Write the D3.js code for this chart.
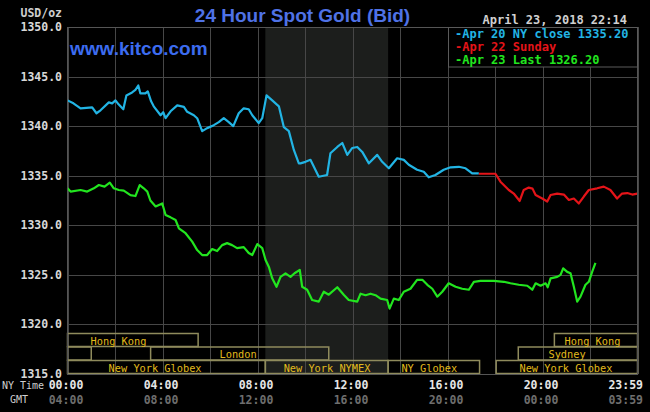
<!DOCTYPE html>
<html>
<head>
<meta charset="utf-8">
<script src="https://cdn.jsdelivr.net/npm/d3@7/dist/d3.min.js"></script>
<style>
  html, body { margin: 0; padding: 0; background: #000; }
  svg { display: block; }
</style>
</head>
<body>
<svg id="chart" width="650" height="412"></svg>
<script>
// ---------- DATA ----------
const yTicks = [1315, 1320, 1325, 1330, 1335, 1340, 1345, 1350];
const nyTimeLabels = ["00:00", "04:00", "08:00", "12:00", "16:00", "20:00", "23:59"];
const gmtLabels    = ["04:00", "08:00", "12:00", "16:00", "20:00", "00:00", "03:59"];
const labelHours   = [0, 4, 8, 12, 16, 20, 23.983];

// Apr 20 (NY close 1335.20) – hours of NY time, price
const apr20Hours = [0.00,0.25,0.55,1.04,1.22,1.39,1.74,1.88,2.02,2.15,2.35,2.48,2.72,2.86,2.98,3.07,3.28,3.38,3.52,3.63,3.92,4.03,4.13,4.34,4.62,4.90,5.04,5.32,5.46,5.67,5.88,6.16,6.37,6.58,6.79,6.98,7.21,7.42,7.63,7.78,8.05,8.20,8.38,8.62,8.90,9.11,9.32,9.53,9.74,9.81,10.02,10.23,10.58,10.93,11.07,11.36,11.57,11.78,11.99,12.20,12.41,12.69,13.04,13.25,13.53,13.88,14.16,14.37,14.72,15.00,15.21,15.49,15.84,16.13,16.48,16.76,17.04,17.32];
const apr20Values = [1342.6,1342.3,1341.8,1341.9,1341.3,1341.6,1342.4,1342.3,1342.6,1342.2,1341.7,1343.1,1343.4,1343.65,1344.1,1343.3,1343.3,1343.5,1342.5,1342.0,1341.1,1341.4,1340.8,1341.5,1342.1,1341.95,1341.45,1341.1,1340.8,1339.5,1339.8,1340.1,1340.4,1340.8,1340.4,1340.0,1341.3,1341.8,1341.7,1341.1,1340.3,1340.8,1343.1,1342.6,1342.0,1339.9,1339.5,1337.6,1336.25,1336.25,1336.4,1336.6,1334.9,1335.07,1337.26,1337.9,1338.3,1337.1,1337.8,1337.9,1337.4,1336.25,1337.1,1336.4,1335.75,1336.76,1336.6,1336.1,1335.6,1335.4,1334.84,1335.07,1335.6,1335.85,1335.9,1335.75,1335.24,1335.24];

// Apr 22 (Sunday)
const apr22Hours = [17.32,18.02,18.23,18.58,18.79,19.04,19.21,19.42,19.58,19.71,19.99,20.20,20.34,20.62,20.90,21.11,21.32,21.53,21.74,21.95,22.30,22.58,22.86,23.14,23.35,23.57,23.78,23.99];
const apr22Values = [1335.2,1335.2,1334.4,1333.56,1333.2,1332.45,1333.56,1333.8,1333.7,1333.05,1332.7,1332.4,1333.05,1333.2,1333.1,1332.55,1332.7,1332.2,1332.9,1333.56,1333.73,1333.9,1333.56,1332.7,1333.2,1333.25,1333.1,1333.2];

// Apr 23 (Last 1326.20)
const apr23Hours = [0.00,0.13,0.55,0.83,1.11,1.32,1.56,1.78,1.95,2.16,2.37,2.65,2.86,3.04,3.21,3.36,3.49,3.71,3.99,4.13,4.34,4.55,4.69,4.97,5.25,5.46,5.67,5.88,6.09,6.30,6.51,6.72,6.93,7.14,7.42,7.63,7.78,7.99,8.20,8.34,8.48,8.62,8.80,8.97,9.18,9.39,9.56,9.78,9.88,10.09,10.30,10.58,10.79,11.00,11.36,11.63,11.84,12.20,12.34,12.55,12.76,12.97,13.18,13.46,13.56,13.74,13.95,14.16,14.44,14.72,14.94,15.15,15.36,15.57,15.78,16.05,16.34,16.62,16.90,17.11,17.39,17.95,18.37,18.65,19.00,19.36,19.57,19.71,19.92,20.13,20.22,20.34,20.62,20.76,20.87,21.04,21.18,21.32,21.46,21.60,21.81,21.95,22.09,22.23];
const apr23Values = [1333.73,1333.4,1333.56,1333.4,1333.73,1334.06,1333.9,1334.3,1333.73,1333.56,1333.5,1333.05,1332.95,1334.06,1333.73,1333.4,1332.5,1331.9,1332.2,1331.04,1330.8,1330.53,1329.7,1329.2,1328.35,1327.5,1327.0,1327.0,1327.6,1327.4,1328.0,1328.2,1328.0,1327.7,1327.8,1327.2,1327.0,1328.1,1327.7,1326.5,1325.8,1324.65,1323.8,1324.8,1325.16,1324.8,1325.16,1325.5,1323.8,1323.5,1322.46,1322.3,1323.3,1323.0,1323.75,1323.0,1322.46,1322.3,1323.1,1322.95,1323.1,1322.95,1322.6,1322.46,1321.6,1322.6,1322.46,1323.3,1323.6,1324.5,1324.5,1324.0,1323.6,1322.8,1323.3,1324.15,1323.8,1323.6,1323.5,1324.3,1324.4,1324.4,1324.3,1324.15,1324.0,1323.9,1323.5,1324.15,1323.9,1324.15,1323.75,1324.65,1324.8,1325.0,1325.66,1325.3,1325.16,1323.8,1322.3,1322.8,1324.0,1324.3,1325.3,1326.2];

const legendLabels = ["-Apr 20 NY close 1335.20", "-Apr 22 Sunday", "-Apr 23 Last 1326.20"];

// trading sessions: name, row, start hour, end hour, label hour
const sessionNames  = ["Hong Kong", "", "London", "New York Globex", "New York NYMEX", "NY Globex", "New York Globex", "Sydney", "Hong Kong"];
const sessionRows   = [0, 1, 1, 2, 2, 2, 2, 1, 0];
const sessionStart  = [0, 0, 3.5, 0, 8.33, 13.5, 18.05, 18.98, 20.5];
const sessionEnd    = [5.5, 1.0, 11.0, 8.33, 13.5, 17.35, 24, 24, 24];
const sessionLabelH = [0.97, 0, 6.4, 1.73, 9.1, 14.06, 19.03, 20.25, 20.93];

const nymexStart = 8.33, nymexEnd = 13.5;

// ---------- DRAW ----------
(function () {
const svg = d3.select("#chart");
const W = 650, H = 412;
svg.append("rect").attr("width", W).attr("height", H).attr("fill", "#000");

const pLeft = 67.5, pRight = 637.5, pTop = 27, pBottom = 374;
const x = d3.scaleLinear().domain([0, 24]).range([pLeft, pRight]);
const y = d3.scaleLinear().domain([1315, 1350]).range([pBottom, pTop]);

const mono = "'DejaVu Sans Mono', monospace";
const sans = "'Liberation Sans', Arial, sans-serif";

// shaded NYMEX floor region
svg.append("rect")
  .attr("x", x(nymexStart)).attr("y", pTop)
  .attr("width", x(nymexEnd) - x(nymexStart)).attr("height", pBottom - pTop)
  .attr("fill", "#1c1e1c");

// grid
const gridColor = "#474747";
const g = svg.append("g");
g.selectAll("line.h").data(yTicks).enter().append("line")
  .attr("x1", pLeft).attr("x2", pRight)
  .attr("y1", d => Math.round(y(d)) + 0.5).attr("y2", d => Math.round(y(d)) + 0.5)
  .attr("stroke", gridColor).attr("stroke-width", 1);
g.selectAll("line.v").data(d3.range(0, 25, 2)).enter().append("line")
  .attr("y1", pTop).attr("y2", pBottom)
  .attr("x1", d => Math.round(x(d)) + 0.5).attr("x2", d => Math.round(x(d)) + 0.5)
  .attr("stroke", gridColor).attr("stroke-width", 1);

// sessions
const base = Math.round(y(1320));
const rowTop = [base + 9.5, base + 23, base + 36.5];
const rowH = 13;
const sess = svg.append("g");
sessionNames.forEach((name, i) => {
  const r = sessionRows[i];
  sess.append("rect")
    .attr("x", x(sessionStart[i])).attr("y", rowTop[r])
    .attr("width", x(sessionEnd[i]) - x(sessionStart[i])).attr("height", rowH)
    .attr("fill", "none").attr("stroke", "#8f8b5c").attr("stroke-width", 1.5);
  if (name) {
    sess.append("text")
      .attr("x", x(sessionLabelH[i])).attr("y", rowTop[r] + rowH / 2 + 0.5)
      .attr("dominant-baseline", "central")
      .attr("font-family", mono).attr("font-size", "10.3px")
      .attr("fill", "#e2bb1c").text(name);
  }
});

// lines
const line = d3.line().x(d => x(d[0])).y(d => y(d[1]));
const series = [
  { h: apr20Hours, v: apr20Values, c: "#22b4e4" },
  { h: apr22Hours, v: apr22Values, c: "#e41419" },
  { h: apr23Hours, v: apr23Values, c: "#22e51f" }
];
series.forEach(s => {
  svg.append("path")
    .datum(s.h.map((t, i) => [t, s.v[i]]))
    .attr("d", line)
    .attr("fill", "none").attr("stroke", s.c)
    .attr("stroke-width", 2.2).attr("stroke-linejoin", "round");
});

// plot border
svg.append("rect")
  .attr("x", pLeft).attr("y", pTop + 0.5)
  .attr("width", pRight - pLeft).attr("height", pBottom - pTop)
  .attr("fill", "none").attr("stroke", "#555").attr("stroke-width", 1);

// y labels
svg.append("g").selectAll("text").data(yTicks).enter().append("text")
  .attr("x", 62).attr("y", d => y(d))
  .attr("text-anchor", "end").attr("dominant-baseline", "central")
  .attr("font-family", mono).attr("font-size", "11.5px").attr("font-weight", "bold")
  .attr("fill", "#d8d8d8").text(d => d3.format(".1f")(d));
svg.append("text").attr("x", 62).attr("y", 13)
  .attr("text-anchor", "end").attr("dominant-baseline", "central")
  .attr("font-family", mono).attr("font-size", "11.5px").attr("font-weight", "bold")
  .attr("fill", "#cfcfcf").text("USD/oz");

// x labels
const xl = svg.append("g");
labelHours.forEach((h, i) => {
  const last = i === labelHours.length - 1;
  const px = last ? 643 : x(h) - 1.5;
  const anchor = last ? "end" : "middle";
  xl.append("text").attr("x", px).attr("y", 385)
    .attr("text-anchor", anchor).attr("dominant-baseline", "central")
    .attr("font-family", mono).attr("font-size", "11.5px").attr("font-weight", "bold")
    .attr("fill", "#e6e6e6").text(nyTimeLabels[i]);
  xl.append("text").attr("x", px).attr("y", 399.5)
    .attr("text-anchor", anchor).attr("dominant-baseline", "central")
    .attr("font-family", mono).attr("font-size", "11.5px").attr("font-weight", "bold")
    .attr("fill", "#6e6e6e").text(gmtLabels[i]);
});
xl.append("text").attr("x", 2).attr("y", 385).attr("dominant-baseline", "central")
  .attr("font-family", mono).attr("font-size", "10px").attr("fill", "#cfcfcf").text("NY Time");
xl.append("text").attr("x", 10).attr("y", 399).attr("dominant-baseline", "central")
  .attr("font-family", mono).attr("font-size", "10px").attr("fill", "#cfcfcf").text("GMT");

// title and url
svg.append("text").attr("x", 302.5).attr("y", 22)
  .attr("text-anchor", "middle").attr("font-family", sans).attr("font-weight", "bold")
  .attr("font-size", "19px").attr("fill", "#4f72e6").text("24 Hour Spot Gold (Bid)");
svg.append("text").attr("x", 70).attr("y", 55)
  .attr("font-family", sans).attr("font-weight", "bold")
  .attr("font-size", "19px").attr("fill", "#3c6cf0").text("www.kitco.com");

// date
svg.append("text").attr("x", 627).attr("y", 20)
  .attr("text-anchor", "end").attr("dominant-baseline", "central")
  .attr("font-family", mono).attr("font-size", "12px").attr("font-weight", "bold")
  .attr("fill", "#d0d0d0").text("April 23, 2018 22:14");

// legend
const lg = svg.append("g");
lg.append("rect").attr("x", 448.5).attr("y", 27.5).attr("width", 189).attr("height", 39.5)
  .attr("fill", "#000").attr("stroke", "#5a5a5a").attr("stroke-width", 1);
legendLabels.forEach((t, i) => {
  lg.append("text").attr("x", 455).attr("y", 34.3 + i * 12.6)
    .attr("dominant-baseline", "central")
    .attr("font-family", mono).attr("font-size", "12px").attr("font-weight", "bold")
    .attr("fill", series[i].c).text(t);
});
})();
</script>
</body>
</html>
